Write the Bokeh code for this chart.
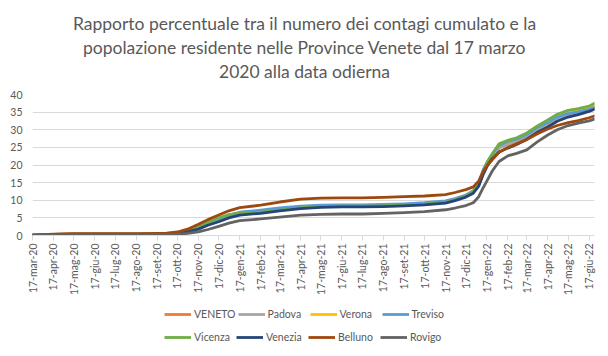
import pandas as pd
from bokeh.plotting import figure
from bokeh.layouts import column
from bokeh.models import Range1d, FixedTicker, Legend, LegendItem, Label
from bokeh.embed import file_html
from bokeh.resources import INLINE

dates = ["2020-03-17", "2020-04-17", "2020-05-17", "2020-06-17", "2020-07-17", "2020-08-17",
         "2020-09-17", "2020-10-01", "2020-10-17", "2020-11-01", "2020-11-17", "2020-12-01",
         "2020-12-17",
         "2021-01-01", "2021-01-17", "2021-02-17", "2021-03-17", "2021-04-17", "2021-05-17",
         "2021-06-17", "2021-07-17", "2021-08-17", "2021-09-17", "2021-10-17", "2021-11-17",
         "2021-12-01", "2021-12-17", "2021-12-28",
         "2022-01-05", "2022-01-12", "2022-01-18", "2022-01-25", "2022-02-04", "2022-02-17",
         "2022-03-02", "2022-03-17", "2022-04-01", "2022-04-17", "2022-05-01", "2022-05-17",
         "2022-06-01", "2022-06-17", "2022-06-25"]

veneto = [0.1, 0.3, 0.4, 0.4, 0.4, 0.4, 0.4, 0.5, 0.7, 1.2, 2.1, 3.3, 4.5,
          5.6, 6.3, 6.9, 7.5, 8.0, 8.3, 8.4, 8.4, 8.5, 8.7, 9.0, 9.5, 10.2, 11.2, 12.4,
          14.6, 18.1, 20.4, 22.4, 24.9, 26.0, 26.8, 28.1, 30.0, 31.5, 33.1, 34.2, 34.8, 35.5, 36.1]
padova = [0.1, 0.3, 0.3, 0.3, 0.3, 0.3, 0.4, 0.4, 0.6, 1.1, 2.0, 3.1, 4.3,
          5.5, 6.2, 6.8, 7.4, 7.9, 8.3, 8.4, 8.4, 8.5, 8.7, 9.0, 9.5, 10.1, 11.1, 12.3,
          14.5, 18.0, 20.3, 22.3, 24.8, 25.9, 26.6, 28.0, 29.9, 31.4, 33.0, 34.1, 34.7, 35.4, 36.0]
verona = [0.1, 0.3, 0.4, 0.4, 0.4, 0.4, 0.4, 0.5, 0.7, 1.3, 2.2, 3.4, 4.7,
          5.8, 6.5, 7.0, 7.6, 8.1, 8.4, 8.5, 8.5, 8.6, 8.8, 9.1, 9.6, 10.2, 11.2, 12.4,
          14.6, 18.2, 20.6, 22.8, 25.5, 26.5, 27.3, 28.7, 30.4, 31.9, 33.6, 34.8, 35.5, 36.3, 36.9]
treviso = [0.1, 0.3, 0.4, 0.4, 0.4, 0.4, 0.4, 0.5, 0.7, 1.2, 2.1, 3.3, 4.6,
           5.8, 6.6, 7.2, 7.8, 8.3, 8.6, 8.7, 8.7, 8.8, 9.0, 9.3, 9.8, 10.5, 11.5, 12.7,
           15.0, 18.8, 21.0, 23.0, 25.5, 26.6, 27.3, 28.6, 30.5, 32.0, 33.6, 34.6, 35.1, 35.8, 36.4]
vicenza = [0.1, 0.3, 0.4, 0.4, 0.4, 0.4, 0.4, 0.5, 0.8, 1.5, 2.5, 3.7, 5.0,
           5.9, 6.3, 6.6, 7.2, 7.8, 8.2, 8.3, 8.3, 8.4, 8.6, 8.9, 9.4, 10.1, 11.2, 12.5,
           14.8, 18.5, 21.0, 23.2, 26.0, 27.0, 27.7, 29.1, 31.0, 32.8, 34.4, 35.5, 36.0, 36.7, 37.5]
venezia = [0.1, 0.2, 0.3, 0.3, 0.3, 0.3, 0.3, 0.4, 0.6, 1.0, 1.8, 2.9, 3.9,
           5.0, 5.8, 6.3, 7.0, 7.6, 8.0, 8.1, 8.1, 8.2, 8.4, 8.7, 9.2, 9.9, 10.9, 12.0,
           14.0, 17.5, 19.8, 21.8, 23.7, 24.8, 25.8, 27.3, 29.2, 30.8, 32.4, 33.6, 34.3, 35.2, 35.8]
belluno = [0.1, 0.4, 0.5, 0.5, 0.5, 0.5, 0.6, 0.7, 1.0, 1.8, 3.2, 4.5, 5.8,
           7.0, 7.9, 8.6, 9.5, 10.3, 10.6, 10.7, 10.7, 10.8, 11.0, 11.2, 11.6, 12.2, 13.0, 13.8,
           15.5, 18.3, 20.0, 21.5, 23.6, 25.0, 26.0, 27.2, 28.8, 30.2, 31.2, 32.0, 32.6, 33.4, 33.9]
rovigo = [0.0, 0.1, 0.2, 0.2, 0.2, 0.2, 0.3, 0.3, 0.4, 0.6, 1.0, 1.7, 2.6,
          3.5, 4.2, 4.7, 5.2, 5.8, 6.0, 6.1, 6.1, 6.3, 6.5, 6.8, 7.3, 7.8, 8.5, 9.3,
          11.0, 13.7, 15.8, 18.3, 21.0, 22.6, 23.3, 24.3, 26.5, 28.5, 30.0, 31.2, 31.9, 32.5, 33.0]

series_names = ["VENETO", "Padova", "Verona", "Treviso", "Vicenza", "Venezia", "Belluno", "Rovigo"]
series_values = [veneto, padova, verona, treviso, vicenza, venezia, belluno, rovigo]
series_colors = ["#ED7D31", "#A5A5A5", "#FFC000", "#5B9BD5", "#70AD47", "#264478", "#9E480E", "#636363"]

tick_dates = ["2020-03-17", "2020-04-17", "2020-05-17", "2020-06-17", "2020-07-17", "2020-08-17",
              "2020-09-17", "2020-10-17", "2020-11-17", "2020-12-17", "2021-01-17", "2021-02-17",
              "2021-03-17", "2021-04-17", "2021-05-17", "2021-06-17", "2021-07-17", "2021-08-17",
              "2021-09-17", "2021-10-17", "2021-11-17", "2021-12-17", "2022-01-17", "2022-02-17",
              "2022-03-17", "2022-04-17", "2022-05-17", "2022-06-17"]
tick_labels = ["17-mar-20", "17-apr-20", "17-mag-20", "17-giu-20", "17-lug-20", "17-ago-20",
               "17-set-20", "17-ott-20", "17-nov-20", "17-dic-20", "17-gen-21", "17-feb-21",
               "17-mar-21", "17-apr-21", "17-mag-21", "17-giu-21", "17-lug-21", "17-ago-21",
               "17-set-21", "17-ott-21", "17-nov-21", "17-dic-21", "17-gen-22", "17-feb-22",
               "17-mar-22", "17-apr-22", "17-mag-22", "17-giu-22"]
y_ticks = [0, 5, 10, 15, 20, 25, 30, 35, 40]
title_lines = ["Rapporto percentuale tra il numero dei contagi cumulato e la",
               "popolazione residente nelle Province Venete dal 17 marzo",
               "2020 alla data odierna"]

start = pd.Timestamp("2020-03-17")
end = pd.Timestamp("2022-06-25")
xs = [(pd.Timestamp(d) - start).days for d in dates]
xt = [(pd.Timestamp(d) - start).days for d in tick_dates]

FONT = "Lato"
GREY = "#595959"


def strip(height):
    f = figure(width=608, height=height, output_backend="svg", toolbar_location=None,
               title=None, x_range=Range1d(0, 1), y_range=Range1d(0, 1),
               x_axis_location=None, y_axis_location=None,
               min_border_left=0, min_border_right=0, min_border_top=0, min_border_bottom=0)
    f.outline_line_color = None
    f.xgrid.visible = False
    f.ygrid.visible = False
    return f


# ---------------- title strip ----------------
tf = strip(84)
for line, ypos in zip(title_lines, [61, 37, 13]):
    tf.add_layout(Label(x=272, y=ypos, x_units="screen", y_units="screen", text=line,
                        text_align="center", text_baseline="middle", text_font=FONT,
                        text_font_size="17.5px", text_color=GREY))

# ---------------- main chart ----------------
p = figure(width=608, height=216, output_backend="svg", toolbar_location=None, title=None,
           x_range=Range1d(0, (end - start).days), y_range=Range1d(0, 40),
           min_border_left=32, min_border_right=14, min_border_top=10, min_border_bottom=65)
p.outline_line_color = None

for vals, col in zip(series_values, series_colors):
    p.line(xs, vals, line_color=col, line_width=2.8, line_join="round", line_cap="round")

p.xaxis.ticker = FixedTicker(ticks=xt)
p.xaxis.major_label_overrides = {t: l for t, l in zip(xt, tick_labels)}
p.xaxis.major_label_orientation = 3.14159265 / 2
p.xaxis.major_label_text_font = FONT
p.xaxis.major_label_text_font_size = "10.5px"
p.xaxis.major_label_text_color = GREY
p.xaxis.axis_line_color = "#D9D9D9"
p.xaxis.major_tick_line_color = "#D9D9D9"
p.xaxis.major_tick_in = 0
p.xaxis.major_tick_out = 5
p.xaxis.minor_tick_line_color = None
p.xaxis.major_label_standoff = 3

p.yaxis.ticker = FixedTicker(ticks=y_ticks)
p.yaxis.major_label_text_font = FONT
p.yaxis.major_label_text_font_size = "10.5px"
p.yaxis.major_label_text_color = GREY
p.yaxis.axis_line_color = None
p.yaxis.major_tick_line_color = None
p.yaxis.major_tick_out = 0
p.yaxis.major_tick_in = 0
p.yaxis.minor_tick_line_color = None
p.yaxis.major_label_standoff = 10

p.xgrid.grid_line_color = None
p.ygrid.ticker = FixedTicker(ticks=y_ticks)
p.ygrid.grid_line_color = "#D9D9D9"
p.ygrid.grid_line_width = 1

# ---------------- legend strip ----------------
lg = strip(56)
nan = float("nan")
items = []
for name, col in zip(series_names, series_colors):
    r = lg.line(x=[nan], y=[nan], line_color=col, line_width=2.8)
    items.append(LegendItem(label=name, renderers=[r]))


def make_legend(its, loc):
    return Legend(items=its, orientation="horizontal", location=loc,
                  label_text_font=FONT, label_text_font_size="10.5px", label_text_color=GREY,
                  glyph_width=27, glyph_height=16, label_standoff=3, label_width=40,
                  label_height=16, spacing=2, padding=2, margin=0,
                  border_line_color=None, background_fill_alpha=0)


lg.add_layout(make_legend(items[:4], (132, 34)))
lg.add_layout(make_legend(items[4:], (132, 11)))

layout = column(tf, p, lg, spacing=0)
open("out.html", "w").write(file_html(layout, INLINE))
